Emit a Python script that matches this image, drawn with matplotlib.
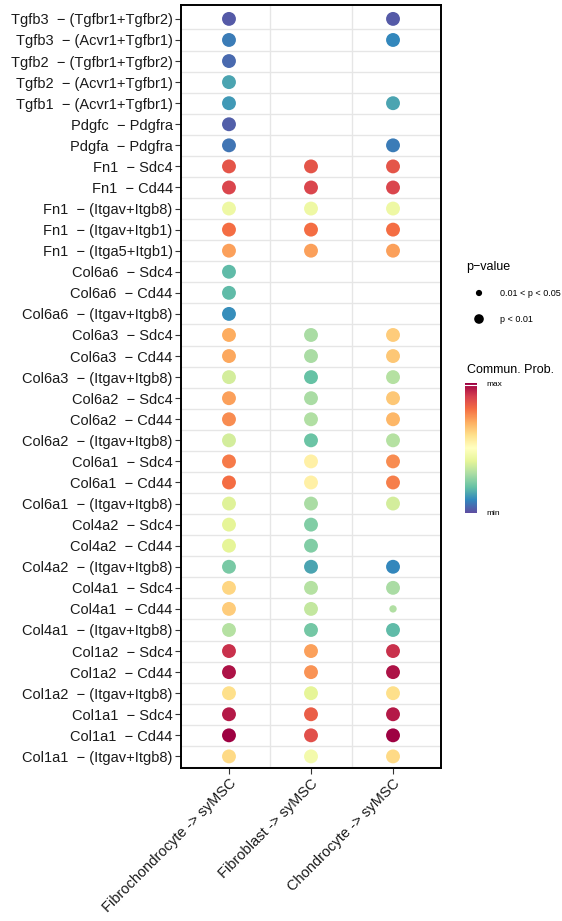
import numpy as np
import matplotlib
matplotlib.use("Agg")
from matplotlib import pyplot as plt
from matplotlib.cm import ScalarMappable
from matplotlib.colors import Normalize

plt.rcParams['font.family'] = ['Liberation Sans', 'DejaVu Sans']

pairs = [
    "Tgfb3  \u2212 (Tgfbr1+Tgfbr2)", "Tgfb3  \u2212 (Acvr1+Tgfbr1)",
    "Tgfb2  \u2212 (Tgfbr1+Tgfbr2)", "Tgfb2  \u2212 (Acvr1+Tgfbr1)",
    "Tgfb1  \u2212 (Acvr1+Tgfbr1)", "Pdgfc  \u2212 Pdgfra", "Pdgfa  \u2212 Pdgfra",
    "Fn1  \u2212 Sdc4", "Fn1  \u2212 Cd44", "Fn1  \u2212 (Itgav+Itgb8)",
    "Fn1  \u2212 (Itgav+Itgb1)", "Fn1  \u2212 (Itga5+Itgb1)",
    "Col6a6  \u2212 Sdc4", "Col6a6  \u2212 Cd44", "Col6a6  \u2212 (Itgav+Itgb8)",
    "Col6a3  \u2212 Sdc4", "Col6a3  \u2212 Cd44", "Col6a3  \u2212 (Itgav+Itgb8)",
    "Col6a2  \u2212 Sdc4", "Col6a2  \u2212 Cd44", "Col6a2  \u2212 (Itgav+Itgb8)",
    "Col6a1  \u2212 Sdc4", "Col6a1  \u2212 Cd44", "Col6a1  \u2212 (Itgav+Itgb8)",
    "Col4a2  \u2212 Sdc4", "Col4a2  \u2212 Cd44", "Col4a2  \u2212 (Itgav+Itgb8)",
    "Col4a1  \u2212 Sdc4", "Col4a1  \u2212 Cd44", "Col4a1  \u2212 (Itgav+Itgb8)",
    "Col1a2  \u2212 Sdc4", "Col1a2  \u2212 Cd44", "Col1a2  \u2212 (Itgav+Itgb8)",
    "Col1a1  \u2212 Sdc4", "Col1a1  \u2212 Cd44", "Col1a1  \u2212 (Itgav+Itgb8)",
]
sources = ["Fibrochondrocyte -> syMSC", "Fibroblast -> syMSC", "Chondrocyte -> syMSC"]

# scaled communication probability (0 = min, 1 = max), None = not significant
prob_fibrochondro = [0.02, 0.08, 0.05, 0.15, 0.13, 0.03, 0.07,
                     0.85, 0.88, 0.43, 0.80, 0.72,
                     0.19, 0.19, 0.11,
                     0.70, 0.71, 0.37, 0.72, 0.75, 0.37, 0.78, 0.80, 0.39,
                     0.40, 0.40, 0.23, 0.62, 0.64, 0.32,
                     0.92, 0.97, 0.60, 0.96, 1.00, 0.61]
prob_fibroblast = [None, None, None, None, None, None, None,
                   0.85, 0.88, 0.43, 0.80, 0.72,
                   None, None, None,
                   0.30, 0.30, 0.20, 0.30, 0.31, 0.21, 0.55, 0.55, 0.30,
                   0.24, 0.24, 0.15, 0.32, 0.34, 0.22,
                   0.72, 0.74, 0.40, 0.83, 0.86, 0.45]
prob_chondro = [0.02, 0.10, None, None, 0.15, None, 0.08,
                0.85, 0.88, 0.43, 0.80, 0.72,
                None, None, None,
                0.64, 0.65, 0.32, 0.65, 0.68, 0.32, 0.75, 0.77, 0.37,
                None, None, 0.10, 0.30, 0.31, 0.19,
                0.92, 0.97, 0.60, 0.96, 1.00, 0.61]
# cells where p is only 0.01 < p < 0.05 (row index, column index)
weak_p = [(28, 2)]

fig = plt.figure(figsize=(5.62, 9.21), dpi=100)
ax = fig.add_axes([181/562, 1-768/921, 260/562, 763/921])
cmap = plt.get_cmap('Spectral_r')

n = len(pairs)
xs, ys, cs, ss = [], [], [], []
for j, col in enumerate([prob_fibrochondro, prob_fibroblast, prob_chondro]):
    for i, v in enumerate(col):
        if v is None:
            continue
        xs.append(j + 1)
        ys.append(n - i)
        cs.append(v)
        ss.append(28 if (i, j) in weak_p else 100)

for k in range(0, n):
    ax.axhline(k + 0.5, color='#e6e6e6', lw=1.0, zorder=0)
for k in [1.5, 2.5]:
    ax.axvline(k, color='#e6e6e6', lw=1.0, zorder=0)

ax.scatter(xs, ys, c=cs, s=ss, cmap=cmap, vmin=0, vmax=1, edgecolors='none', zorder=3)

ax.set_xlim(0.415, 3.585)
ax.set_ylim(0.45, n + 0.66)
ax.set_yticks(range(n, 0, -1))
ax.set_yticklabels(pairs, fontsize=10.5, color='#1a1a1a')
ax.set_xticks([1, 2, 3])
ax.set_xticklabels(sources, fontsize=10.5, color='#1a1a1a', rotation=45,
                   ha='right', va='top', rotation_mode='anchor')
ax.tick_params(axis='both', length=4, width=0.8, color='#333333', pad=2)
for sp in ax.spines.values():
    sp.set_linewidth(1.4)
    sp.set_color('black')

# p-value legend
fig.text(466/562, 1-267/921, "p\u2212value", fontsize=9, va='center', ha='left')
lax = fig.add_axes([466/562, 1-331/921, 96/562, 50/921])
lax.set_xlim(0, 96)
lax.set_ylim(0, 50)
lax.axis('off')
lax.scatter([13, 13], [38, 12], s=[20, 48], color='black', edgecolors='none')
lax.text(34, 38, "0.01 < p < 0.05", fontsize=6.5, va='center')
lax.text(34, 12, "p < 0.01", fontsize=6.5, va='center')

# colour legend
fig.text(467/562, 1-370/921, "Commun. Prob.", fontsize=9, va='center', ha='left')
cax = fig.add_axes([465/562, 1-513/921, 12/562, 130/921])
sm = ScalarMappable(norm=Normalize(0, 1), cmap=cmap)
cb = fig.colorbar(sm, cax=cax)
cb.outline.set_visible(False)
cb.set_ticks([])
cax.axhline(0.985, color='white', lw=0.8)
fig.text(486/562, 1-385/921, "max", fontsize=6, va='center')
fig.text(486/562, 1-513/921, "min", fontsize=6, va='center')

fig.savefig("out.png", dpi=100)
